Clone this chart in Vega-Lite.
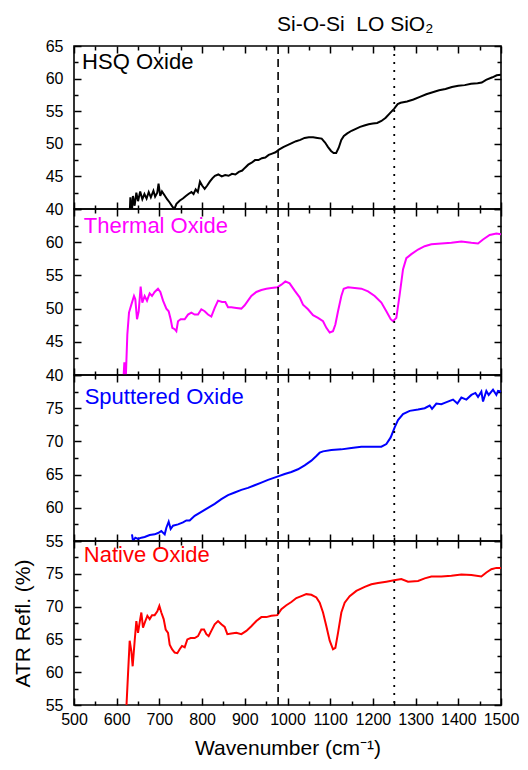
{
  "$schema": "https://vega.github.io/schema/vega-lite/v6.json",
  "padding": {"left": 11, "top": 13, "right": 5, "bottom": 5},
  "background": "white",
  "datasets": {
    "hsq": [
      {"wn": 630, "r": 38.5}, {"wn": 632, "r": 41.8}, {"wn": 635, "r": 39}, {"wn": 638, "r": 42}, {"wn": 642, "r": 40.5},
      {"wn": 646, "r": 42.5}, {"wn": 650, "r": 41.2}, {"wn": 655, "r": 42.7}, {"wn": 660, "r": 41.5}, {"wn": 665, "r": 42.3},
      {"wn": 670, "r": 41.6}, {"wn": 675, "r": 42.6}, {"wn": 680, "r": 41.8}, {"wn": 686, "r": 42.8}, {"wn": 690, "r": 41.9},
      {"wn": 695, "r": 42.5}, {"wn": 698, "r": 43.9}, {"wn": 702, "r": 42.0}, {"wn": 706, "r": 42.7}, {"wn": 712, "r": 42.1},
      {"wn": 718, "r": 41.5}, {"wn": 724, "r": 41.0}, {"wn": 730, "r": 40.4}, {"wn": 735, "r": 40.0}, {"wn": 740, "r": 40.8},
      {"wn": 748, "r": 41.3}, {"wn": 755, "r": 41.6}, {"wn": 762, "r": 42.0}, {"wn": 768, "r": 42.3}, {"wn": 775, "r": 42.6},
      {"wn": 780, "r": 42.3}, {"wn": 785, "r": 43.0}, {"wn": 790, "r": 42.6}, {"wn": 795, "r": 44.2}, {"wn": 800, "r": 43.6},
      {"wn": 806, "r": 43.1}, {"wn": 812, "r": 43.6}, {"wn": 818, "r": 44.2}, {"wn": 824, "r": 44.7}, {"wn": 830, "r": 45.1},
      {"wn": 838, "r": 45.3}, {"wn": 846, "r": 45.0}, {"wn": 854, "r": 45.2}, {"wn": 862, "r": 45.1}, {"wn": 870, "r": 45.4},
      {"wn": 878, "r": 45.3}, {"wn": 886, "r": 45.7}, {"wn": 894, "r": 45.9}, {"wn": 900, "r": 46.3}, {"wn": 908, "r": 46.8},
      {"wn": 916, "r": 47.1}, {"wn": 924, "r": 47.5}, {"wn": 932, "r": 47.5}, {"wn": 940, "r": 47.8}, {"wn": 948, "r": 47.9},
      {"wn": 956, "r": 48.3}, {"wn": 964, "r": 48.5}, {"wn": 972, "r": 48.7}, {"wn": 980, "r": 49.1}, {"wn": 990, "r": 49.5},
      {"wn": 1000, "r": 49.8}, {"wn": 1010, "r": 50.1}, {"wn": 1020, "r": 50.4}, {"wn": 1030, "r": 50.6}, {"wn": 1040, "r": 50.9},
      {"wn": 1050, "r": 51.0}, {"wn": 1060, "r": 51.0}, {"wn": 1070, "r": 50.9}, {"wn": 1080, "r": 50.8}, {"wn": 1088, "r": 50.2},
      {"wn": 1095, "r": 49.5}, {"wn": 1102, "r": 48.9}, {"wn": 1108, "r": 48.6}, {"wn": 1114, "r": 48.6}, {"wn": 1120, "r": 49.4},
      {"wn": 1126, "r": 50.6}, {"wn": 1132, "r": 51.2}, {"wn": 1140, "r": 51.6}, {"wn": 1150, "r": 52.0}, {"wn": 1160, "r": 52.3},
      {"wn": 1170, "r": 52.6}, {"wn": 1180, "r": 52.8}, {"wn": 1190, "r": 53.0}, {"wn": 1200, "r": 53.1}, {"wn": 1210, "r": 53.2},
      {"wn": 1220, "r": 53.5}, {"wn": 1230, "r": 54.0}, {"wn": 1240, "r": 54.7}, {"wn": 1250, "r": 55.4}, {"wn": 1258, "r": 56.1},
      {"wn": 1265, "r": 56.3}, {"wn": 1280, "r": 56.5}, {"wn": 1295, "r": 56.8}, {"wn": 1310, "r": 57.2}, {"wn": 1325, "r": 57.6},
      {"wn": 1340, "r": 57.9}, {"wn": 1355, "r": 58.2}, {"wn": 1370, "r": 58.4}, {"wn": 1385, "r": 58.7}, {"wn": 1400, "r": 58.9},
      {"wn": 1415, "r": 59.0}, {"wn": 1430, "r": 59.2}, {"wn": 1445, "r": 59.3}, {"wn": 1455, "r": 59.4}, {"wn": 1465, "r": 59.8},
      {"wn": 1480, "r": 60.2}, {"wn": 1490, "r": 60.5}, {"wn": 1500, "r": 60.6}
    ],
    "thermal": [
      {"wn": 615.5, "r": 39.0}, {"wn": 617.9, "r": 41.9}, {"wn": 621, "r": 39.0}, {"wn": 624.9, "r": 46.1}, {"wn": 628.8, "r": 49.4},
      {"wn": 634.3, "r": 50.6}, {"wn": 640.5, "r": 51.9}, {"wn": 643.6, "r": 51.4}, {"wn": 647.6, "r": 48.4}, {"wn": 651.5, "r": 49.6},
      {"wn": 656.1, "r": 53.3}, {"wn": 660, "r": 50.9}, {"wn": 665.5, "r": 51.9}, {"wn": 671, "r": 51.2}, {"wn": 677.2, "r": 52.3},
      {"wn": 682.7, "r": 51.9}, {"wn": 688.9, "r": 52.5}, {"wn": 696.7, "r": 53.0}, {"wn": 702.2, "r": 52.5}, {"wn": 708.5, "r": 51.2},
      {"wn": 716.3, "r": 50.0}, {"wn": 721.7, "r": 49.6}, {"wn": 726.4, "r": 48.4}, {"wn": 730.3, "r": 47.1}, {"wn": 735.8, "r": 46.9},
      {"wn": 739.7, "r": 46.6}, {"wn": 743.6, "r": 48.1}, {"wn": 749.8, "r": 48.4}, {"wn": 759.2, "r": 48.4}, {"wn": 767, "r": 49.1},
      {"wn": 774.8, "r": 49.4}, {"wn": 782.6, "r": 49.1}, {"wn": 790.4, "r": 49.1}, {"wn": 798.2, "r": 49.9}, {"wn": 806, "r": 49.6},
      {"wn": 813.8, "r": 49.1}, {"wn": 821.6, "r": 48.8}, {"wn": 829.5, "r": 50.1}, {"wn": 837.3, "r": 51.2}, {"wn": 846.6, "r": 51.0},
      {"wn": 854.4, "r": 51.0}, {"wn": 860.7, "r": 50.2}, {"wn": 868.5, "r": 50.2}, {"wn": 880.2, "r": 50.1}, {"wn": 891.9, "r": 50.0},
      {"wn": 899.7, "r": 50.5}, {"wn": 907.5, "r": 51.2}, {"wn": 915.3, "r": 51.9}, {"wn": 927, "r": 52.5}, {"wn": 938.8, "r": 52.8},
      {"wn": 950.5, "r": 53.0}, {"wn": 962.2, "r": 53.1}, {"wn": 976.2, "r": 53.2}, {"wn": 985.6, "r": 53.6}, {"wn": 995, "r": 54.1},
      {"wn": 1005, "r": 53.8}, {"wn": 1016.8, "r": 52.7}, {"wn": 1028.5, "r": 51.7}, {"wn": 1036.3, "r": 50.6}, {"wn": 1048, "r": 49.9},
      {"wn": 1059.8, "r": 49.0}, {"wn": 1071.5, "r": 48.6}, {"wn": 1083.2, "r": 48.1}, {"wn": 1091, "r": 47.1}, {"wn": 1098.8, "r": 46.4},
      {"wn": 1106.6, "r": 46.6}, {"wn": 1112.1, "r": 47.6}, {"wn": 1118.3, "r": 49.6}, {"wn": 1126.1, "r": 51.9}, {"wn": 1131.6, "r": 53.0},
      {"wn": 1141.7, "r": 53.2}, {"wn": 1157.4, "r": 53.1}, {"wn": 1173, "r": 53.0}, {"wn": 1188.6, "r": 52.6}, {"wn": 1204.2, "r": 51.9},
      {"wn": 1219.8, "r": 50.9}, {"wn": 1231.5, "r": 49.6}, {"wn": 1241.7, "r": 48.4}, {"wn": 1247.1, "r": 48.1}, {"wn": 1254.9, "r": 48.6},
      {"wn": 1262.7, "r": 52.1}, {"wn": 1270.5, "r": 55.9}, {"wn": 1278.3, "r": 57.6}, {"wn": 1290.1, "r": 58.2}, {"wn": 1305.7, "r": 58.9},
      {"wn": 1321.3, "r": 59.4}, {"wn": 1336.9, "r": 59.7}, {"wn": 1360.3, "r": 59.8}, {"wn": 1383.8, "r": 59.9}, {"wn": 1407.2, "r": 60.1},
      {"wn": 1430.6, "r": 59.9}, {"wn": 1446.2, "r": 59.8}, {"wn": 1457.9, "r": 60.4}, {"wn": 1473.5, "r": 61.1}, {"wn": 1489.2, "r": 61.3},
      {"wn": 1500, "r": 61.2}
    ],
    "sputtered": [
      {"wn": 635.8, "r": 56.0}, {"wn": 638.2, "r": 55.0}, {"wn": 643.6, "r": 55.5}, {"wn": 649.9, "r": 55.3}, {"wn": 657.7, "r": 55.5},
      {"wn": 665.5, "r": 55.6}, {"wn": 677.2, "r": 55.9}, {"wn": 688.9, "r": 56.0}, {"wn": 696.7, "r": 56.2}, {"wn": 704.5, "r": 56.5},
      {"wn": 712.4, "r": 56.0}, {"wn": 716.3, "r": 57.0}, {"wn": 721.7, "r": 57.9}, {"wn": 726.4, "r": 56.8}, {"wn": 731.9, "r": 57.3},
      {"wn": 743.6, "r": 57.5}, {"wn": 755.3, "r": 57.8}, {"wn": 763.1, "r": 58.1}, {"wn": 770.9, "r": 58.1}, {"wn": 782.6, "r": 58.8},
      {"wn": 798.2, "r": 59.4}, {"wn": 813.8, "r": 60.0}, {"wn": 829.5, "r": 60.6}, {"wn": 845.1, "r": 61.3}, {"wn": 860.7, "r": 61.9},
      {"wn": 876.3, "r": 62.3}, {"wn": 891.9, "r": 62.7}, {"wn": 907.5, "r": 63.0}, {"wn": 923.1, "r": 63.4}, {"wn": 938.8, "r": 63.8},
      {"wn": 954.4, "r": 64.2}, {"wn": 976.2, "r": 64.7}, {"wn": 993.4, "r": 65.1}, {"wn": 1009, "r": 65.4}, {"wn": 1024.6, "r": 65.8},
      {"wn": 1040.2, "r": 66.4}, {"wn": 1055.9, "r": 67.1}, {"wn": 1067.6, "r": 67.8}, {"wn": 1075.4, "r": 68.3}, {"wn": 1083.2, "r": 68.5},
      {"wn": 1102.7, "r": 68.7}, {"wn": 1126.1, "r": 68.8}, {"wn": 1149.5, "r": 69.0}, {"wn": 1173, "r": 69.2}, {"wn": 1196.4, "r": 69.2},
      {"wn": 1219.8, "r": 69.2}, {"wn": 1231.5, "r": 69.6}, {"wn": 1241.7, "r": 70.6}, {"wn": 1251, "r": 72.1}, {"wn": 1258.8, "r": 73.2},
      {"wn": 1270.5, "r": 74.1}, {"wn": 1286.1, "r": 74.6}, {"wn": 1305.7, "r": 74.8}, {"wn": 1321.3, "r": 75.0}, {"wn": 1333, "r": 75.4},
      {"wn": 1338.5, "r": 74.9}, {"wn": 1348.6, "r": 75.7}, {"wn": 1360.3, "r": 75.6}, {"wn": 1368.1, "r": 75.8}, {"wn": 1379.9, "r": 76.1},
      {"wn": 1387.7, "r": 76.3}, {"wn": 1397.8, "r": 75.7}, {"wn": 1407.2, "r": 76.6}, {"wn": 1418.9, "r": 76.3}, {"wn": 1430.6, "r": 77.0},
      {"wn": 1440, "r": 77.3}, {"wn": 1446.2, "r": 76.7}, {"wn": 1454, "r": 77.5}, {"wn": 1457.9, "r": 76.0}, {"wn": 1465.7, "r": 77.6},
      {"wn": 1471.2, "r": 77.0}, {"wn": 1481.3, "r": 77.8}, {"wn": 1489.2, "r": 77.0}, {"wn": 1493, "r": 77.6}, {"wn": 1500, "r": 77.5}
    ],
    "native": [
      {"wn": 622.6, "r": 54.5}, {"wn": 626.5, "r": 59.7}, {"wn": 630.4, "r": 64.8}, {"wn": 634.3, "r": 63.2}, {"wn": 637.4, "r": 60.9},
      {"wn": 642.1, "r": 64.8}, {"wn": 646, "r": 67.8}, {"wn": 649.9, "r": 66.0}, {"wn": 653.8, "r": 67.6}, {"wn": 657.7, "r": 69.1},
      {"wn": 661.6, "r": 66.8}, {"wn": 667.1, "r": 67.8}, {"wn": 671.8, "r": 68.6}, {"wn": 677.2, "r": 68.1}, {"wn": 682.7, "r": 68.7},
      {"wn": 688.9, "r": 68.7}, {"wn": 695.2, "r": 69.3}, {"wn": 699.9, "r": 70.1}, {"wn": 704.5, "r": 69.1}, {"wn": 710, "r": 68.1},
      {"wn": 714.7, "r": 66.5}, {"wn": 720.2, "r": 66.0}, {"wn": 724.1, "r": 64.2}, {"wn": 729.5, "r": 63.5}, {"wn": 735.8, "r": 63.0},
      {"wn": 742, "r": 62.9}, {"wn": 747.5, "r": 63.5}, {"wn": 752.9, "r": 64.0}, {"wn": 759.2, "r": 63.8}, {"wn": 765.4, "r": 65.0},
      {"wn": 773.2, "r": 65.2}, {"wn": 782.6, "r": 65.2}, {"wn": 790.4, "r": 65.5}, {"wn": 798.2, "r": 66.5}, {"wn": 804.5, "r": 66.5},
      {"wn": 810, "r": 65.8}, {"wn": 815.4, "r": 65.5}, {"wn": 821.6, "r": 66.3}, {"wn": 829.5, "r": 67.3}, {"wn": 837.3, "r": 67.8},
      {"wn": 845.1, "r": 67.3}, {"wn": 852.9, "r": 66.9}, {"wn": 859.1, "r": 65.8}, {"wn": 868.5, "r": 65.9}, {"wn": 880.2, "r": 66.0},
      {"wn": 891.9, "r": 65.8}, {"wn": 903.6, "r": 66.3}, {"wn": 915.3, "r": 67.0}, {"wn": 927, "r": 67.8}, {"wn": 938.8, "r": 68.4},
      {"wn": 950.5, "r": 68.4}, {"wn": 962.2, "r": 68.6}, {"wn": 976.2, "r": 68.7}, {"wn": 985.6, "r": 69.6}, {"wn": 997.3, "r": 70.2},
      {"wn": 1009, "r": 70.7}, {"wn": 1020.7, "r": 71.3}, {"wn": 1032.4, "r": 71.6}, {"wn": 1044.1, "r": 71.9}, {"wn": 1055.9, "r": 71.8},
      {"wn": 1067.6, "r": 71.4}, {"wn": 1075.4, "r": 70.6}, {"wn": 1083.2, "r": 69.1}, {"wn": 1091, "r": 67.0}, {"wn": 1098.8, "r": 64.8},
      {"wn": 1106.6, "r": 63.5}, {"wn": 1112.1, "r": 63.7}, {"wn": 1118.3, "r": 66.0}, {"wn": 1126.1, "r": 69.1}, {"wn": 1133.9, "r": 70.6},
      {"wn": 1145.6, "r": 71.6}, {"wn": 1161.2, "r": 72.4}, {"wn": 1180.8, "r": 73.0}, {"wn": 1196.4, "r": 73.4}, {"wn": 1212, "r": 73.6},
      {"wn": 1231.5, "r": 73.8}, {"wn": 1249.5, "r": 74.0}, {"wn": 1266.6, "r": 74.2}, {"wn": 1282.3, "r": 73.8}, {"wn": 1305.7, "r": 73.9},
      {"wn": 1321.3, "r": 74.3}, {"wn": 1337, "r": 74.6}, {"wn": 1360.3, "r": 74.6}, {"wn": 1383.8, "r": 74.7}, {"wn": 1407.2, "r": 74.9},
      {"wn": 1430.6, "r": 74.8}, {"wn": 1454, "r": 74.6}, {"wn": 1465.7, "r": 75.2}, {"wn": 1477.4, "r": 75.7}, {"wn": 1489.2, "r": 75.9},
      {"wn": 1500, "r": 75.9}
    ]
  },
  "vconcat": [
    {
      "width": 427, "height": 163,
      "title": {"text": "Si-O-Si\u00a0\u00a0LO SiO₂", "anchor": "start", "frame": "group", "dx": 203, "offset": -18, "baseline": "bottom", "fontSize": 21, "fontWeight": "normal", "font": "Liberation Sans", "color": "black"},
      "layer": [
        {
          "data": {"name": "hsq"},
          "mark": {"type": "line", "color": "black", "strokeWidth": 2, "clip": true},
          "encoding": {
            "x": {"field": "wn", "type": "quantitative", "scale": {"domain": [500, 1500], "nice": false, "zero": false},
                  "axis": {"title": null, "values": [500,550,600,650,700,750,800,850,900,950,1000,1050,1100,1150,1200,1250,1300,1350,1400,1450,1500], "labels": false,
                           "tickSize": {"condition": {"test": "datum.value % 100 === 0", "value": -7}, "value": -4}}},
            "y": {"field": "r", "type": "quantitative", "scale": {"domain": [40, 65], "nice": false, "zero": false},
                  "axis": {"title": null, "values": [40,42.5,45,47.5,50,52.5,55,57.5,60,62.5,65],
                           "labelExpr": "datum.value % 5 === 0 ? datum.label : ''",
                           "tickSize": {"condition": {"test": "datum.value % 5 === 0", "value": -7}, "value": -4}}}
          }
        },
        {"data": {"values": [{"wn": 978}]}, "mark": {"type": "rule", "color": "black", "strokeWidth": 1.6, "strokeDash": [8, 5]},
         "encoding": {"x": {"field": "wn", "type": "quantitative", "axis": null}}},
        {"data": {"values": [{"wn": 1250}]}, "mark": {"type": "rule", "color": "black", "strokeWidth": 1.8, "strokeDash": [2, 6]},
         "encoding": {"x": {"field": "wn", "type": "quantitative", "axis": null}}},
        {
          "data": {"values": [{"wn": 519, "r": 62.5, "label": "HSQ Oxide"}]},
          "mark": {"type": "text", "align": "left", "baseline": "middle", "fontSize": 22, "font": "Liberation Sans", "color": "black"},
          "encoding": {
            "text": {"field": "label"},
            "x": {"field": "wn", "type": "quantitative", "scale": {"domain": [500, 1500], "nice": false, "zero": false},
                  "axis": {"orient": "top", "title": null, "labels": false, "values": [500,550,600,650,700,750,800,850,900,950,1000,1050,1100,1150,1200,1250,1300,1350,1400,1450,1500],
                           "tickSize": {"condition": {"test": "datum.value % 100 === 0", "value": -7}, "value": -4}}},
            "y": {"field": "r", "type": "quantitative", "scale": {"domain": [40, 65], "nice": false, "zero": false},
                  "axis": {"orient": "right", "title": null, "labels": false, "values": [40,42.5,45,47.5,50,52.5,55,57.5,60,62.5,65],
                           "tickSize": {"condition": {"test": "datum.value % 5 === 0", "value": -7}, "value": -4}}}
          }
        }
      ],
      "resolve": {"axis": {"x": "independent", "y": "independent"}}
    },
    {
      "width": 427, "height": 166,
      "layer": [
        {
          "data": {"name": "thermal"},
          "mark": {"type": "line", "color": "#FF00FF", "strokeWidth": 2, "clip": true},
          "encoding": {
            "x": {"field": "wn", "type": "quantitative", "scale": {"domain": [500, 1500], "nice": false, "zero": false},
                  "axis": {"title": null, "values": [500,550,600,650,700,750,800,850,900,950,1000,1050,1100,1150,1200,1250,1300,1350,1400,1450,1500], "labels": false,
                           "tickSize": {"condition": {"test": "datum.value % 100 === 0", "value": -7}, "value": -4}}},
            "y": {"field": "r", "type": "quantitative", "scale": {"domain": [40, 65], "nice": false, "zero": false},
                  "axis": {"title": null, "values": [40,42.5,45,47.5,50,52.5,55,57.5,60,62.5,65],
                           "labelExpr": "datum.value % 5 === 0 && datum.value < 65 ? datum.label : ''",
                           "tickSize": {"condition": {"test": "datum.value % 5 === 0", "value": -7}, "value": -4}}}
          }
        },
        {"data": {"values": [{"wn": 978}]}, "mark": {"type": "rule", "color": "black", "strokeWidth": 1.6, "strokeDash": [8, 5]},
         "encoding": {"x": {"field": "wn", "type": "quantitative", "axis": null}}},
        {"data": {"values": [{"wn": 1250}]}, "mark": {"type": "rule", "color": "black", "strokeWidth": 1.8, "strokeDash": [2, 6]},
         "encoding": {"x": {"field": "wn", "type": "quantitative", "axis": null}}},
        {
          "data": {"values": [{"wn": 523, "r": 62.4, "label": "Thermal Oxide"}]},
          "mark": {"type": "text", "align": "left", "baseline": "middle", "fontSize": 22, "font": "Liberation Sans", "color": "#FF00FF"},
          "encoding": {
            "text": {"field": "label"},
            "x": {"field": "wn", "type": "quantitative", "scale": {"domain": [500, 1500], "nice": false, "zero": false},
                  "axis": {"orient": "top", "title": null, "labels": false, "values": [500,550,600,650,700,750,800,850,900,950,1000,1050,1100,1150,1200,1250,1300,1350,1400,1450,1500],
                           "tickSize": {"condition": {"test": "datum.value % 100 === 0", "value": -7}, "value": -4}}},
            "y": {"field": "r", "type": "quantitative", "scale": {"domain": [40, 65], "nice": false, "zero": false},
                  "axis": {"orient": "right", "title": null, "labels": false, "values": [40,42.5,45,47.5,50,52.5,55,57.5,60,62.5,65],
                           "tickSize": {"condition": {"test": "datum.value % 5 === 0", "value": -7}, "value": -4}}}
          }
        }
      ],
      "resolve": {"axis": {"x": "independent", "y": "independent"}}
    },
    {
      "width": 427, "height": 166,
      "layer": [
        {
          "data": {"name": "sputtered"},
          "mark": {"type": "line", "color": "#0000FF", "strokeWidth": 2, "clip": true},
          "encoding": {
            "x": {"field": "wn", "type": "quantitative", "scale": {"domain": [500, 1500], "nice": false, "zero": false},
                  "axis": {"title": null, "values": [500,550,600,650,700,750,800,850,900,950,1000,1050,1100,1150,1200,1250,1300,1350,1400,1450,1500], "labels": false,
                           "tickSize": {"condition": {"test": "datum.value % 100 === 0", "value": -7}, "value": -4}}},
            "y": {"field": "r", "type": "quantitative", "scale": {"domain": [55, 80], "nice": false, "zero": false},
                  "axis": {"title": null, "values": [55,57.5,60,62.5,65,67.5,70,72.5,75,77.5,80],
                           "labelExpr": "datum.value % 5 === 0 && datum.value < 80 ? datum.label : ''",
                           "tickSize": {"condition": {"test": "datum.value % 5 === 0", "value": -7}, "value": -4}}}
          }
        },
        {"data": {"values": [{"wn": 978}]}, "mark": {"type": "rule", "color": "black", "strokeWidth": 1.6, "strokeDash": [8, 5]},
         "encoding": {"x": {"field": "wn", "type": "quantitative", "axis": null}}},
        {"data": {"values": [{"wn": 1250}]}, "mark": {"type": "rule", "color": "black", "strokeWidth": 1.8, "strokeDash": [2, 6]},
         "encoding": {"x": {"field": "wn", "type": "quantitative", "axis": null}}},
        {
          "data": {"values": [{"wn": 525, "r": 76.7, "label": "Sputtered Oxide"}]},
          "mark": {"type": "text", "align": "left", "baseline": "middle", "fontSize": 22, "font": "Liberation Sans", "color": "#0000FF"},
          "encoding": {
            "text": {"field": "label"},
            "x": {"field": "wn", "type": "quantitative", "scale": {"domain": [500, 1500], "nice": false, "zero": false},
                  "axis": {"orient": "top", "title": null, "labels": false, "values": [500,550,600,650,700,750,800,850,900,950,1000,1050,1100,1150,1200,1250,1300,1350,1400,1450,1500],
                           "tickSize": {"condition": {"test": "datum.value % 100 === 0", "value": -7}, "value": -4}}},
            "y": {"field": "r", "type": "quantitative", "scale": {"domain": [55, 80], "nice": false, "zero": false},
                  "axis": {"orient": "right", "title": null, "labels": false, "values": [55,57.5,60,62.5,65,67.5,70,72.5,75,77.5,80],
                           "tickSize": {"condition": {"test": "datum.value % 5 === 0", "value": -7}, "value": -4}}}
          }
        }
      ],
      "resolve": {"axis": {"x": "independent", "y": "independent"}}
    },
    {
      "width": 427, "height": 164,
      "layer": [
        {
          "data": {"name": "native"},
          "mark": {"type": "line", "color": "#FF0000", "strokeWidth": 2, "clip": true},
          "encoding": {
            "x": {"field": "wn", "type": "quantitative", "scale": {"domain": [500, 1500], "nice": false, "zero": false},
                  "axis": {"title": "Wavenumber (cm⁻¹)", "titleFontSize": 21, "titlePadding": 7, "format": "d", "values": [500,550,600,650,700,750,800,850,900,950,1000,1050,1100,1150,1200,1250,1300,1350,1400,1450,1500],
                           "labelExpr": "datum.value % 100 === 0 ? datum.label : ''", "labelPadding": 13,
                           "tickSize": {"condition": {"test": "datum.value % 100 === 0", "value": -7}, "value": -4}}},
            "y": {"field": "r", "type": "quantitative", "scale": {"domain": [55, 80], "nice": false, "zero": false},
                  "axis": {"title": "ATR Refl. (%)", "titleFontSize": 21, "titlePadding": 12, "values": [55,57.5,60,62.5,65,67.5,70,72.5,75,77.5,80],
                           "labelExpr": "datum.value % 5 === 0 && datum.value < 80 ? datum.label : ''",
                           "tickSize": {"condition": {"test": "datum.value % 5 === 0", "value": -7}, "value": -4}}}
          }
        },
        {"data": {"values": [{"wn": 978}]}, "mark": {"type": "rule", "color": "black", "strokeWidth": 1.6, "strokeDash": [8, 5]},
         "encoding": {"x": {"field": "wn", "type": "quantitative", "axis": null}}},
        {"data": {"values": [{"wn": 1250}]}, "mark": {"type": "rule", "color": "black", "strokeWidth": 1.8, "strokeDash": [2, 6]},
         "encoding": {"x": {"field": "wn", "type": "quantitative", "axis": null}}},
        {
          "data": {"values": [{"wn": 523, "r": 77.9, "label": "Native Oxide"}]},
          "mark": {"type": "text", "align": "left", "baseline": "middle", "fontSize": 22, "font": "Liberation Sans", "color": "#FF0000"},
          "encoding": {
            "text": {"field": "label"},
            "x": {"field": "wn", "type": "quantitative", "scale": {"domain": [500, 1500], "nice": false, "zero": false},
                  "axis": {"orient": "top", "title": null, "labels": false, "values": [500,550,600,650,700,750,800,850,900,950,1000,1050,1100,1150,1200,1250,1300,1350,1400,1450,1500],
                           "tickSize": {"condition": {"test": "datum.value % 100 === 0", "value": -7}, "value": -4}}},
            "y": {"field": "r", "type": "quantitative", "scale": {"domain": [55, 80], "nice": false, "zero": false},
                  "axis": {"orient": "right", "title": null, "labels": false, "values": [55,57.5,60,62.5,65,67.5,70,72.5,75,77.5,80],
                           "tickSize": {"condition": {"test": "datum.value % 5 === 0", "value": -7}, "value": -4}}}
          }
        }
      ],
      "resolve": {"axis": {"x": "independent", "y": "independent"}}
    }
  ],
  "spacing": 0,
  "bounds": "flush",
  "config": {
    "font": "Liberation Sans",
    "view": {"stroke": "black", "strokeWidth": 1.6},
    "axis": {
      "domain": false, "grid": false,
      "tickColor": "black", "tickWidth": 1.5,
      "labelFont": "Liberation Sans", "labelFontSize": 16, "labelColor": "black",
      "labelPadding": 18, "labelFlush": false, "labelOverlap": false,
      "titleFont": "Liberation Sans", "titleFontWeight": "normal", "titleColor": "black"
    }
  }
}
